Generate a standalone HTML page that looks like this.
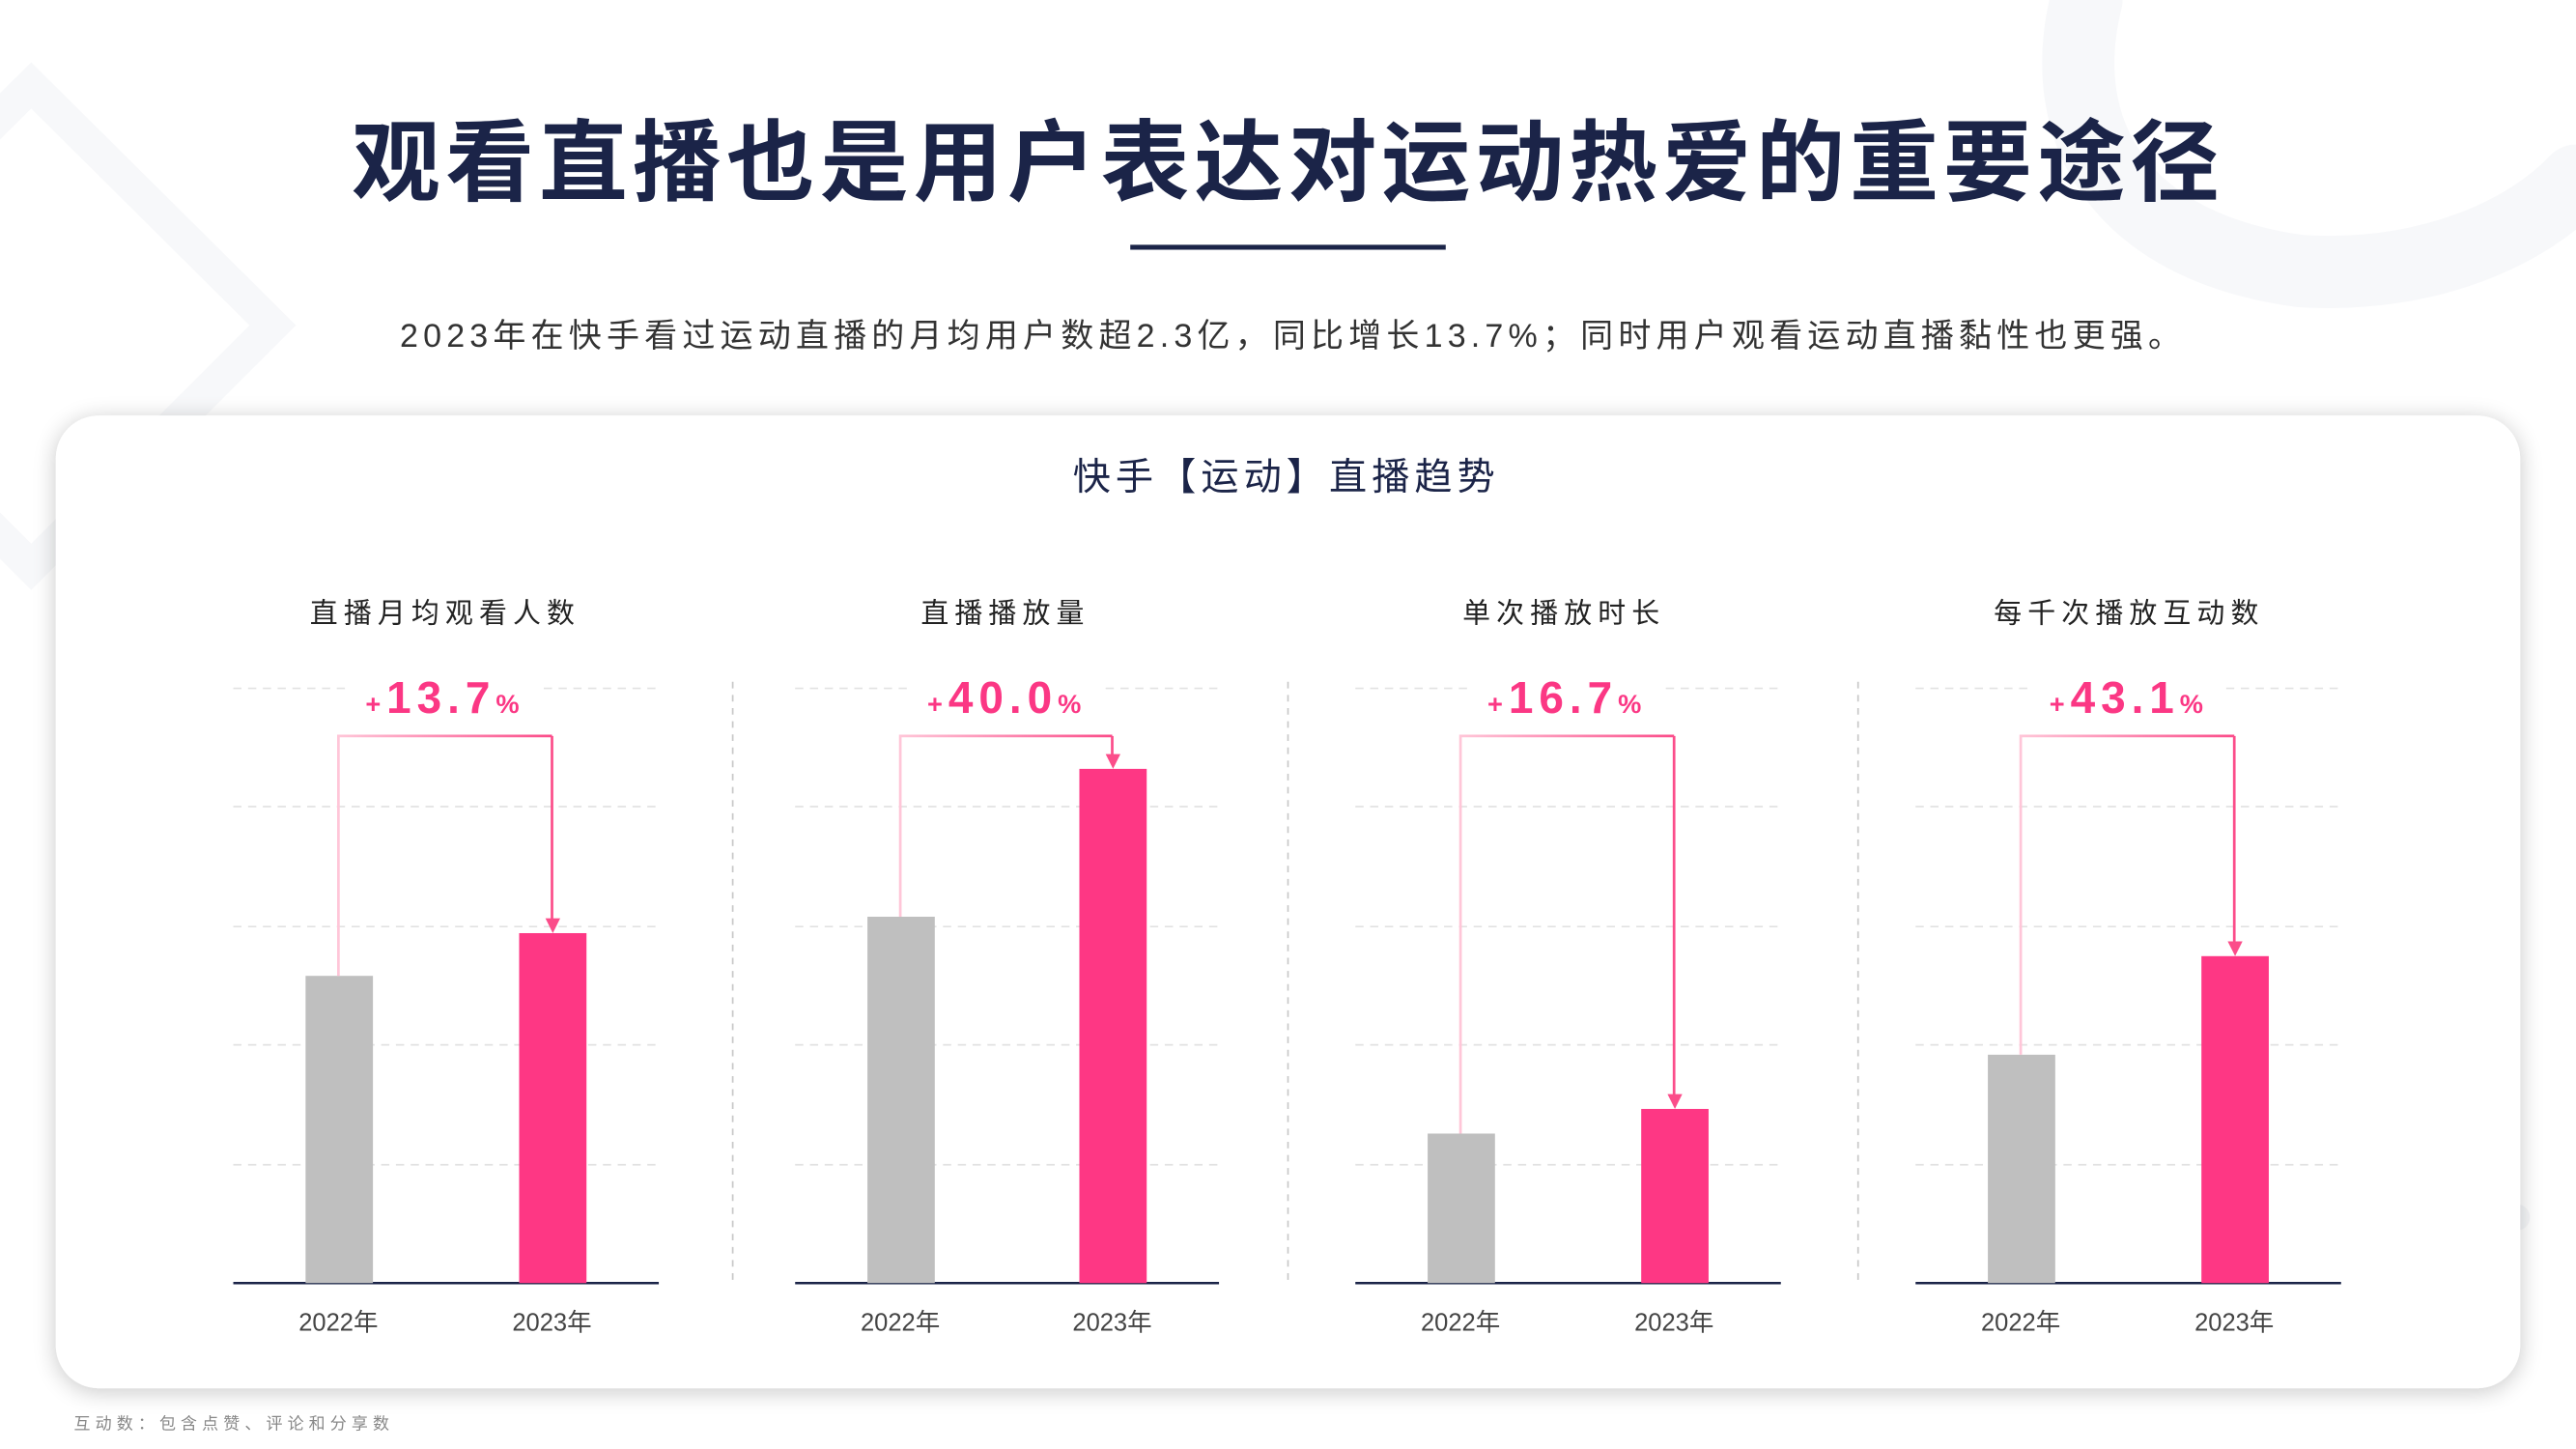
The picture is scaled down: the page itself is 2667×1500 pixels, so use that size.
<!DOCTYPE html>
<html><head><meta charset="utf-8"><style>
html,body{margin:0;padding:0;background:#fff;}
svg{display:block;}
text{font-family:"Liberation Sans","Noto Sans CJK SC",sans-serif;}
</style></head><body>
<svg width="2667" height="1500" viewBox="0 0 1568 882" preserveAspectRatio="none" xmlns="http://www.w3.org/2000/svg">
<defs>
<filter id="sh" x="-5%" y="-10%" width="110%" height="120%"><feGaussianBlur in="SourceAlpha" stdDeviation="7"/><feOffset dy="2"/><feComponentTransfer><feFuncA type="linear" slope="0.22"/></feComponentTransfer><feMerge><feMergeNode/><feMergeNode in="SourceGraphic"/></feMerge></filter>
<linearGradient id="ag" x1="0" x2="1" y1="0" y2="0"><stop offset="0" stop-color="#ffc6d8"/><stop offset="1" stop-color="#fb4d8a"/></linearGradient>
</defs>
<rect width="1568" height="882" fill="#fff"/>
<polygon points="19,52 166,198 19,345 -128,198" fill="none" stroke="#f7f8fa" stroke-width="20"/>
<path d="M1270,0 C1250,80 1290,150 1400,165 C1480,170 1540,140 1568,110" fill="none" stroke="#f7f8fa" stroke-width="44" stroke-linecap="round"/>
<path d="M1505,715 V768 M1478,741 H1532" stroke="#f5f6f8" stroke-width="16" stroke-linecap="round"/>
<text x="784" y="118" text-anchor="middle" font-size="54" font-weight="bold" fill="#1b2448" letter-spacing="3">观看直播也是用户表达对运动热爱的重要途径</text>
<rect x="688" y="149" width="192" height="3" fill="#1b2448"/>
<text x="787" y="211" text-anchor="middle" font-size="20" fill="#333" letter-spacing="3.05">2023年在快手看过运动直播的月均用户数超2.3亿，同比增长13.7%；同时用户观看运动直播黏性也更强。</text>
<rect x="34" y="253" width="1500" height="592" rx="26" fill="#fff" filter="url(#sh)"/>
<text x="783" y="298" text-anchor="middle" font-size="23" fill="#1b2448" letter-spacing="3">快手【运动】直播趋势</text>
<g stroke="#c8c8c8" stroke-width="1" stroke-dasharray="4,4">
<line x1="446" y1="415" x2="446" y2="781"/><line x1="784" y1="415" x2="784" y2="781"/><line x1="1131" y1="415" x2="1131" y2="781"/>
</g>
<g stroke="#e2e2e2" stroke-width="1" stroke-dasharray="5,4">
<path d="M142,419H401M142,491H401M142,564H401M142,636H401M142,709H401"/>
<path d="M484,419H742M484,491H742M484,564H742M484,636H742M484,709H742"/>
<path d="M825,419H1084M825,491H1084M825,564H1084M825,636H1084M825,709H1084"/>
<path d="M1166,419H1425M1166,491H1425M1166,564H1425M1166,636H1425M1166,709H1425"/>
</g>
<g fill="#fff"><rect x="210" y="408" width="120" height="30"/><rect x="552" y="408" width="120" height="30"/><rect x="893" y="408" width="120" height="30"/><rect x="1235" y="408" width="120" height="30"/></g>
<g stroke="#1b2448" stroke-width="1.5"><path d="M142,781H401M484,781H742M825,781H1084M1166,781H1425"/></g>
<g fill="#bfbfbf"><rect x="186" y="594" width="41" height="187"/><rect x="528" y="558" width="41" height="223"/><rect x="869" y="690" width="41" height="91"/><rect x="1210" y="642" width="41" height="139"/></g>
<g fill="#fe3784"><rect x="316" y="568" width="41" height="213"/><rect x="657" y="468" width="41" height="313"/><rect x="999" y="675" width="41" height="106"/><rect x="1340" y="582" width="41" height="199"/></g>
<g fill="none" stroke-width="1.6">
<path d="M206,594V448H336" stroke="url(#ag)"/><path d="M336,448V560" stroke="#fb4d8a"/>
<path d="M548,558V448H677" stroke="url(#ag)"/><path d="M677,448V460" stroke="#fb4d8a"/>
<path d="M889,690V448H1019" stroke="url(#ag)"/><path d="M1019,448V667" stroke="#fb4d8a"/>
<path d="M1230,642V448H1360" stroke="url(#ag)"/><path d="M1360,448V574" stroke="#fb4d8a"/>
</g>
<g fill="#fb4d8a"><polygon points="332,559 341,559 336.5,568"/><polygon points="673,459 682,459 677.5,468"/><polygon points="1015,666 1024,666 1019.5,675"/><polygon points="1356,573 1365,573 1360.5,582"/></g>
<g fill="#fb3784" font-weight="bold" text-anchor="middle">
<text x="271" y="434" font-size="27" letter-spacing="3.5"><tspan font-size="16">+</tspan>13.7<tspan font-size="16">%</tspan></text>
<text x="613" y="434" font-size="27" letter-spacing="3.5"><tspan font-size="16">+</tspan>40.0<tspan font-size="16">%</tspan></text>
<text x="954" y="434" font-size="27" letter-spacing="3.5"><tspan font-size="16">+</tspan>16.7<tspan font-size="16">%</tspan></text>
<text x="1296" y="434" font-size="27" letter-spacing="3.5"><tspan font-size="16">+</tspan>43.1<tspan font-size="16">%</tspan></text>
</g>
<g font-size="17" fill="#222" text-anchor="middle" letter-spacing="3.6">
<text x="271" y="379">直播月均观看人数</text><text x="612" y="379">直播播放量</text><text x="952" y="379">单次播放时长</text><text x="1296" y="379">每千次播放互动数</text>
</g>
<g font-size="15" fill="#444" text-anchor="middle">
<text x="206" y="810">2022年</text><text x="336" y="810">2023年</text>
<text x="548" y="810">2022年</text><text x="677" y="810">2023年</text>
<text x="889" y="810">2022年</text><text x="1019" y="810">2023年</text>
<text x="1230" y="810">2022年</text><text x="1360" y="810">2023年</text>
</g>
<text x="45" y="870" font-size="10" fill="#888" letter-spacing="3">互动数：包含点赞、评论和分享数</text>
</svg>
</body></html>
